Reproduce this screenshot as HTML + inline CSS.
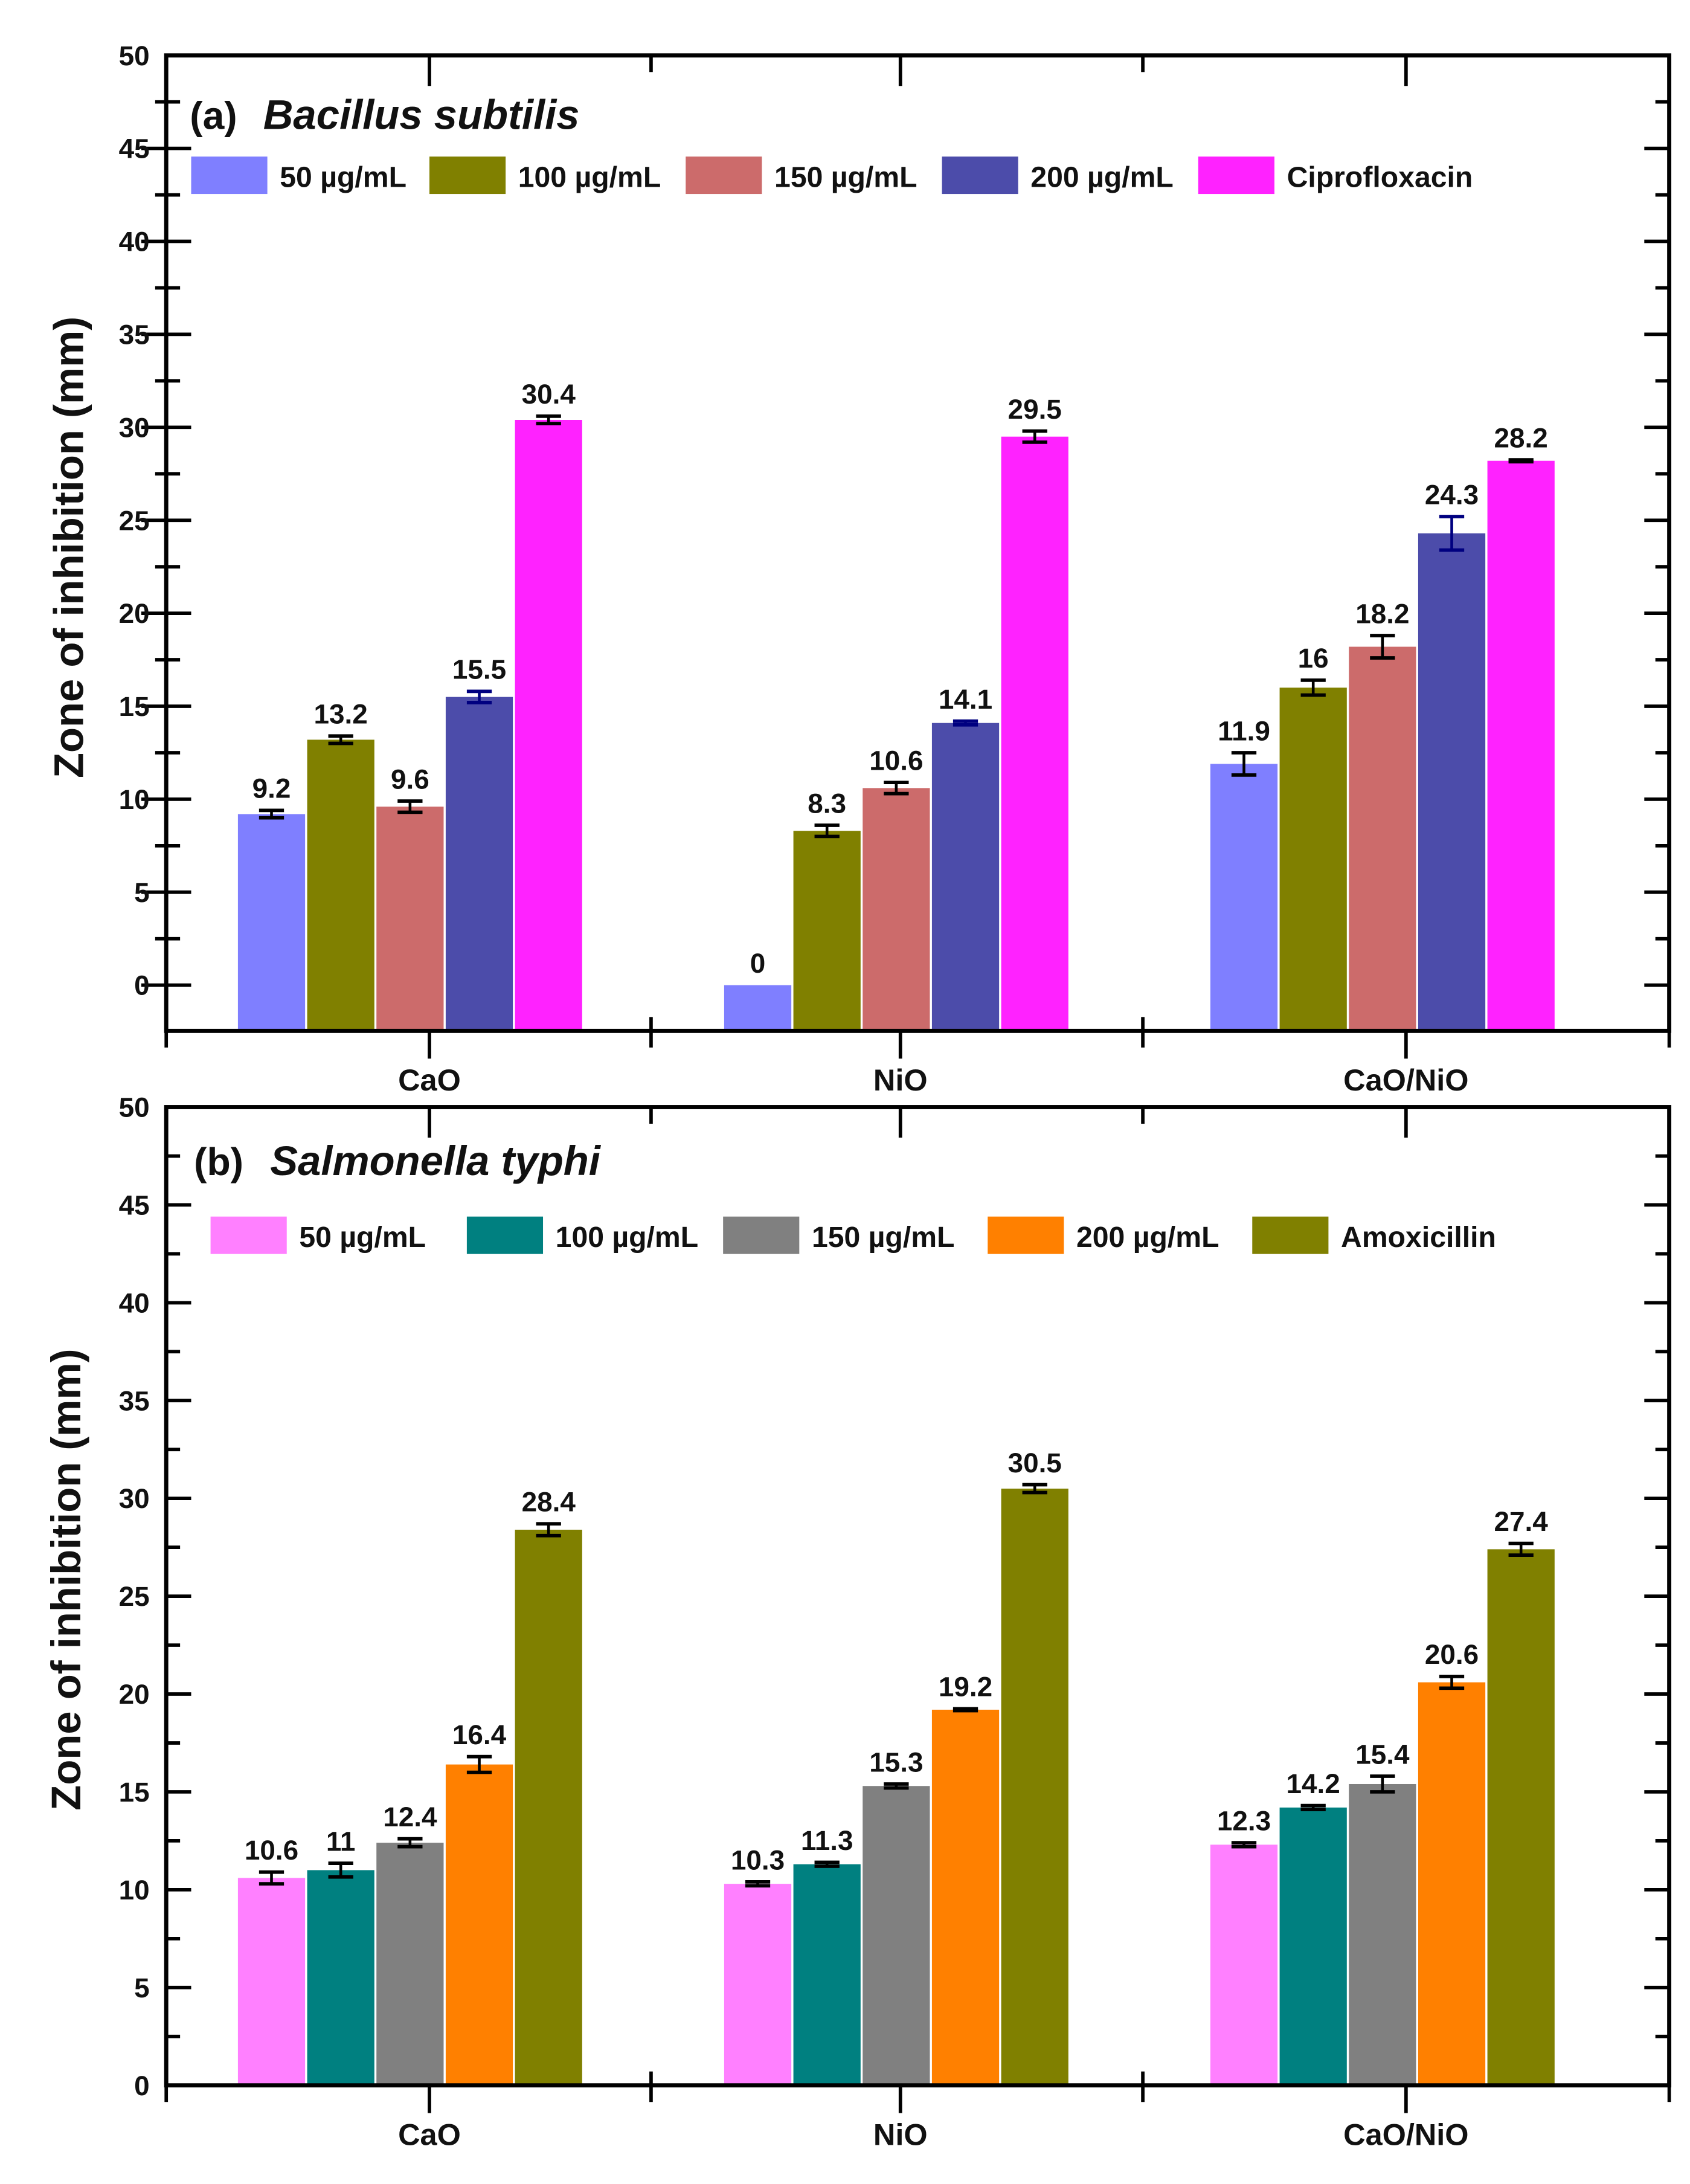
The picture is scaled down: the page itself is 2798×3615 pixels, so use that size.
<!DOCTYPE html>
<html><head><meta charset="utf-8"><style>
html,body{margin:0;padding:0;background:#fff;}
svg{display:block;}
text{font-family:"Liberation Sans",Arial,sans-serif;font-weight:bold;fill:#111;}
</style></head>
<body>
<svg id="chart" width="2798" height="3615" viewBox="0 0 1220 1576.2" preserveAspectRatio="none" xmlns="http://www.w3.org/2000/svg"></svg>
<script>
const categories = ["CaO","NiO","CaO/NiO"];
const yTicks = [0,5,10,15,20,25,30,35,40,45,50];
// Panel a: Bacillus subtilis
const seriesA = ["50 µg/mL","100 µg/mL","150 µg/mL","200 µg/mL","Ciprofloxacin"];
const valuesA50 = [9.2,0,11.9];
const valuesA100 = [13.2,8.3,16];
const valuesA150 = [9.6,10.6,18.2];
const valuesA200 = [15.5,14.1,24.3];
const valuesACipro = [30.4,29.5,28.2];
const errorsA50 = [0.2,0,0.6];
const errorsA100 = [0.2,0.3,0.4];
const errorsA150 = [0.3,0.3,0.6];
const errorsA200 = [0.3,0.1,0.9];
const errorsACipro = [0.2,0.3,0.05];
// Panel b: Salmonella typhi
const seriesB = ["50 µg/mL","100 µg/mL","150 µg/mL","200 µg/mL","Amoxicillin"];
const valuesB50 = [10.6,10.3,12.3];
const valuesB100 = [11,11.3,14.2];
const valuesB150 = [12.4,15.3,15.4];
const valuesB200 = [16.4,19.2,20.6];
const valuesBAmox = [28.4,30.5,27.4];
const errorsB50 = [0.3,0.1,0.1];
const errorsB100 = [0.35,0.1,0.1];
const errorsB150 = [0.2,0.1,0.4];
const errorsB200 = [0.4,0.05,0.3];
const errorsBAmox = [0.3,0.2,0.3];

const NS="http://www.w3.org/2000/svg";
const svg=document.getElementById('chart');
function mk(tag,attrs,parent){const e=document.createElementNS(NS,tag);for(const k in attrs)e.setAttribute(k,attrs[k]);(parent||svg).appendChild(e);return e;}

function panel(cfg){
  const g=mk('g',{});
  
  
  const L=120,R=1205;
  const y=v=>cfg.y0+(v/50)*(cfg.y50-cfg.y0);
  const xc=i=>296+351*i;
  const bw=48.5, step=50;
  // bars
  cfg.values.forEach((arr,s)=>{
    arr.forEach((v,i)=>{
      const cx=xc(i)+(s-2)*step;
      const top=y(v), base=cfg.yBottom;
      const r=mk('rect',{x:cx-bw/2,y:top,width:bw,height:Math.max(base-top,0),fill:cfg.colors[s]},g);
      
      
      const e=cfg.errors[s][i];
      const ec=cfg.errColors[s];
      if(e>0.02){
        mk('line',{x1:cx,x2:cx,y1:y(v+e),y2:y(v-e),stroke:ec,'stroke-width':2},g);
        mk('line',{x1:cx-9,x2:cx+9,y1:y(v+e),y2:y(v+e),stroke:ec,'stroke-width':2.5},g);
        mk('line',{x1:cx-9,x2:cx+9,y1:y(v-e),y2:y(v-e),stroke:ec,'stroke-width':2.5},g);
      } else if(v>0){
        mk('line',{x1:cx-9,x2:cx+9,y1:y(v),y2:y(v),stroke:ec,'stroke-width':3},g);
      }
      const t=mk('text',{x:cx,y:y(v+e)-9,'text-anchor':'middle','font-size':20},g);
      t.textContent=String(v);
      
      
    });
  });
  // frame
  mk('rect',{x:L,y:cfg.y50,width:R-L,height:cfg.yBottom-cfg.y50,fill:'none',stroke:'#000','stroke-width':3},g);
  // y ticks
  for(let v=0;v<=50;v+=2.5){
    const yy=y(v); const major=(v%5===0); const len=major?18:10;
    mk('line',{x1:L,x2:L+len,y1:yy,y2:yy,stroke:'#000','stroke-width':2.5},g);
    mk('line',{x1:R,x2:R-len,y1:yy,y2:yy,stroke:'#000','stroke-width':2.5},g);
    if(cfg.key==='a' && v<50){mk('line',{x1:L-(major?18:8),x2:L,y1:yy,y2:yy,stroke:'#000','stroke-width':2.5},g);}
  }
  yTicks.forEach(v=>{
    const t=mk('text',{x:L-12,y:y(v)+7,'text-anchor':'end','font-size':20},g);
    t.textContent=v;
    
    
  });
  // x ticks
  const bounds=[470,825];
  bounds.forEach(bx=>{
    mk('line',{x1:bx,x2:bx,y1:cfg.y50,y2:cfg.y50+12,stroke:'#000','stroke-width':2.5},g);
    mk('line',{x1:bx,x2:bx,y1:cfg.yBottom-10,y2:cfg.yBottom+12,stroke:'#000','stroke-width':2.5},g);
  });
  mk('line',{x1:L,x2:L,y1:cfg.yBottom,y2:cfg.yBottom+12,stroke:'#000','stroke-width':2.5},g);
  mk('line',{x1:R,x2:R,y1:cfg.yBottom,y2:cfg.yBottom+12,stroke:'#000','stroke-width':2.5},g);
  categories.forEach((c,i)=>{
    const cx=[310,650,1015][i];
    mk('line',{x1:cx,x2:cx,y1:cfg.y50,y2:cfg.y50+22,stroke:'#000','stroke-width':2.5},g);
    mk('line',{x1:cx,x2:cx,y1:cfg.yBottom,y2:cfg.yBottom+20,stroke:'#000','stroke-width':2.5},g);
    const t=mk('text',{x:cx,y:cfg.yBottom+43,'text-anchor':'middle','font-size':22},g);
    t.textContent=c;
    
    
  });
  // y title
  const yt=mk('text',{x:0,y:0,'text-anchor':'middle','font-size':30,transform:`translate(${cfg.ytX},${cfg.ytY}) rotate(-90)`},g);
  yt.textContent='Zone of inhibition (mm)';
  
  
  // title
  const t1=mk('text',{x:cfg.titleX,y:cfg.titleY,'font-size':28},g);
  t1.textContent=cfg.tag;
  
  
  const t2=mk('text',{x:cfg.titleX2,y:cfg.titleY,'font-size':30,'font-style':'italic'},g);
  t2.textContent=cfg.title;
  
  
  // legend
  cfg.series.forEach((s,k)=>{
    const sx=cfg.legX[k];
    const lg=mk('g',{},g);
    
    
    mk('rect',{x:sx,y:cfg.legY-14,width:55,height:27,fill:cfg.colors[k]},lg);
    const t=mk('text',{x:sx+64,y:cfg.legY+8,'font-size':21},lg);
    t.textContent=s;
  });
}

panel({key:'a',name:'panel-a-bacillus',y0:711,y50:40,yBottom:744,
  values:[valuesA50,valuesA100,valuesA150,valuesA200,valuesACipro],
  errors:[errorsA50,errorsA100,errorsA150,errorsA200,errorsACipro],
  colors:['#7f7fff','#808000','#cc6b6b','#4c4caa','#ff22ff'],
  errColors:['#000','#000','#000','#000080','#000'],
  series:seriesA,legX:[138,310,495,680,865],legY:127,
  tag:'(a)',title:'Bacillus subtilis',titleX:137,titleX2:190,titleY:93,
  ytX:60,ytY:395});
panel({key:'b',name:'panel-b-salmonella',y0:1505,y50:799,yBottom:1505,
  values:[valuesB50,valuesB100,valuesB150,valuesB200,valuesBAmox],
  errors:[errorsB50,errorsB100,errorsB150,errorsB200,errorsBAmox],
  colors:['#ff80ff','#008080','#808080','#ff8000','#808000'],
  errColors:['#000','#000','#000','#000','#000'],
  series:seriesB,legX:[152,337,522,713,904],legY:892,
  tag:'(b)',title:'Salmonella typhi',titleX:140,titleX2:195,titleY:848,
  ytX:58,ytY:1140});
</script>
</body></html>
